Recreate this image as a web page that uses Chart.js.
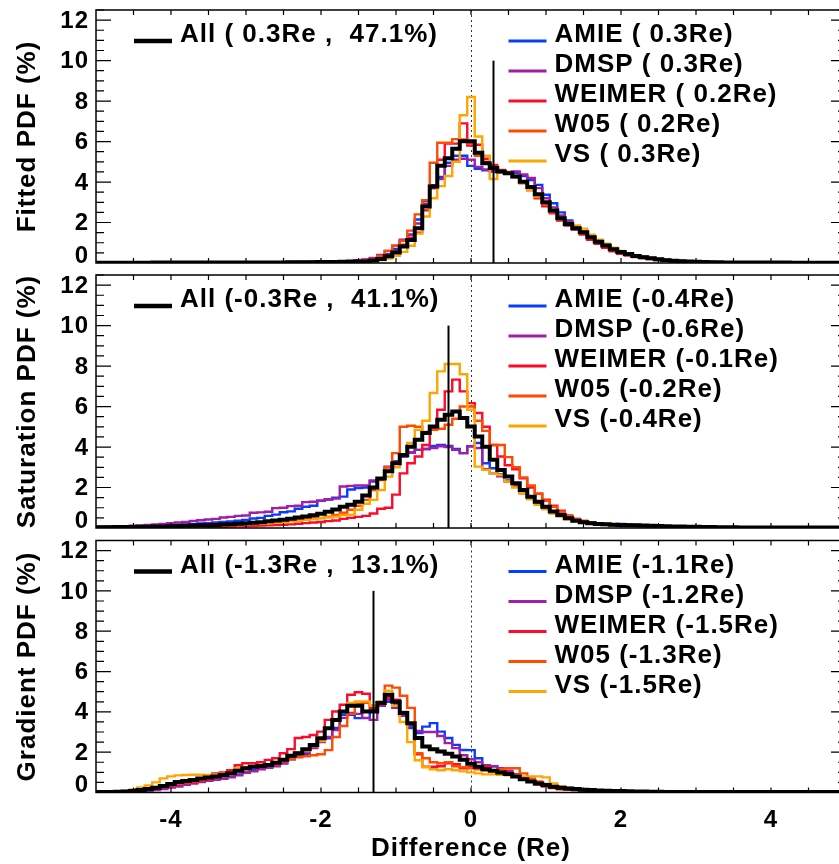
<!DOCTYPE html>
<html><head><meta charset="utf-8">
<script src="https://cdn.jsdelivr.net/npm/chart.js@4.4.1/dist/chart.umd.min.js"></script>
<style>
html,body{margin:0;padding:0;background:#fff;overflow:hidden;width:839px;height:864px;}
#wrap{position:relative;width:839px;height:864px;overflow:hidden;background:#fff;}
canvas{position:absolute;left:0;}
</style></head><body>
<div id="wrap">
<canvas id="c1" width="870" height="270" style="top:0px"></canvas>
<canvas id="c2" width="870" height="270" style="top:265px"></canvas>
<canvas id="c3" width="870" height="334" style="top:530px"></canvas>
</div>
<script>
// ---------- categories (bin centres, Re) ----------
const binCenters = [
-5.0,-4.9,-4.8,-4.7,-4.6,-4.5,-4.4,-4.3,-4.2,-4.1,
-4.0,-3.9,-3.8,-3.7,-3.6,-3.5,-3.4,-3.3,-3.2,-3.1,
-3.0,-2.9,-2.8,-2.7,-2.6,-2.5,-2.4,-2.3,-2.2,-2.1,
-2.0,-1.9,-1.8,-1.7,-1.6,-1.5,-1.4,-1.3,-1.2,-1.1,
-1.0,-0.9,-0.8,-0.7,-0.6,-0.5,-0.4,-0.3,-0.2,-0.1,
0.0,0.1,0.2,0.3,0.4,0.5,0.6,0.7,0.8,0.9,
1.0,1.1,1.2,1.3,1.4,1.5,1.6,1.7,1.8,1.9,
2.0,2.1,2.2,2.3,2.4,2.5,2.6,2.7,2.8,2.9,
3.0,3.1,3.2,3.3,3.4,3.5,3.6,3.7,3.8,3.9,
4.0,4.1,4.2,4.3,4.4,4.5,4.6,4.7,4.8,4.9,
5.0];

// ---------- Panel 1 : Fitted PDF (%) ----------
const fitAll = [
0.01,0.01,0.01,0.01,0.01,0.01,0.01,0.01,0.02,0.02,
0.02,0.02,0.02,0.02,0.02,0.02,0.02,0.02,0.02,0.02,
0.02,0.03,0.03,0.03,0.03,0.03,0.04,0.04,0.04,0.04,
0.05,0.05,0.05,0.06,0.06,0.07,0.08,0.12,0.20,0.33,
0.52,0.81,1.14,1.72,2.79,3.78,4.80,5.18,5.65,6.02,
6.02,5.45,4.93,4.69,4.52,4.44,4.27,4.02,3.75,3.40,
3.00,2.60,2.21,1.93,1.72,1.52,1.27,1.05,0.86,0.68,
0.54,0.45,0.35,0.28,0.23,0.18,0.14,0.11,0.09,0.07,
0.06,0.05,0.04,0.04,0.03,0.03,0.03,0.02,0.02,0.02,
0.02,0.02,0.02,0.01,0.01,0.01,0.01,0.01,0.01,0.01,
0.01];
const fitAMIE = [
0.01,0.01,0.01,0.01,0.01,0.01,0.01,0.01,0.02,0.02,
0.02,0.02,0.02,0.02,0.02,0.02,0.02,0.02,0.02,0.02,
0.03,0.03,0.03,0.03,0.04,0.04,0.04,0.05,0.05,0.05,
0.06,0.06,0.07,0.08,0.09,0.12,0.15,0.20,0.30,0.45,
0.70,1.10,1.40,2.15,3.05,3.85,4.25,4.95,5.30,5.30,
4.80,4.65,4.58,4.52,4.48,4.45,4.45,4.30,4.10,3.86,
3.37,2.95,2.50,2.10,1.80,1.55,1.30,1.08,0.90,0.72,
0.58,0.47,0.37,0.30,0.24,0.19,0.15,0.12,0.10,0.08,
0.06,0.05,0.05,0.04,0.04,0.03,0.03,0.03,0.02,0.02,
0.02,0.02,0.02,0.02,0.02,0.02,0.02,0.02,0.02,0.02,
0.02];
const fitDMSP = [
0.01,0.01,0.01,0.01,0.01,0.01,0.01,0.01,0.02,0.02,
0.02,0.02,0.02,0.02,0.02,0.02,0.02,0.02,0.02,0.02,
0.03,0.03,0.03,0.04,0.04,0.04,0.05,0.05,0.05,0.06,
0.06,0.07,0.08,0.09,0.11,0.14,0.17,0.25,0.40,0.60,
0.85,1.15,1.40,1.95,2.90,3.70,4.15,4.80,5.10,5.15,
5.10,4.75,4.62,4.55,4.50,4.50,4.52,4.37,4.20,3.70,
3.20,2.75,2.35,2.05,1.80,1.50,1.28,1.10,0.90,0.72,
0.58,0.48,0.38,0.31,0.25,0.20,0.16,0.13,0.10,0.08,
0.07,0.06,0.05,0.04,0.04,0.03,0.03,0.03,0.02,0.02,
0.02,0.02,0.02,0.02,0.02,0.02,0.02,0.02,0.02,0.02,
0.02];
const fitWEIMER = [
0.01,0.01,0.01,0.01,0.01,0.01,0.01,0.01,0.01,0.01,
0.01,0.01,0.01,0.01,0.01,0.02,0.02,0.02,0.02,0.02,
0.02,0.02,0.02,0.03,0.03,0.03,0.03,0.04,0.04,0.04,
0.05,0.05,0.05,0.06,0.07,0.08,0.10,0.14,0.25,0.40,
0.60,0.90,1.25,1.50,2.60,3.70,5.10,5.90,5.90,6.90,
5.80,5.84,5.15,4.85,4.60,4.45,4.25,3.95,3.60,3.20,
2.80,2.45,2.10,1.85,1.65,1.40,1.15,0.95,0.75,0.58,
0.45,0.37,0.30,0.24,0.19,0.15,0.12,0.10,0.08,0.06,
0.05,0.04,0.04,0.03,0.03,0.03,0.02,0.02,0.02,0.02,
0.01,0.01,0.01,0.01,0.01,0.01,0.01,0.01,0.01,0.01,
0.01];
const fitW05 = [
0.01,0.01,0.01,0.01,0.01,0.01,0.01,0.01,0.01,0.01,
0.01,0.01,0.01,0.01,0.01,0.02,0.02,0.02,0.02,0.02,
0.02,0.02,0.03,0.03,0.03,0.03,0.04,0.04,0.04,0.05,
0.05,0.06,0.06,0.07,0.08,0.10,0.13,0.20,0.35,0.60,
0.85,1.10,1.60,2.40,3.10,4.95,5.94,5.94,6.12,6.10,
5.90,5.30,5.00,4.75,4.55,4.45,4.25,3.95,3.60,3.25,
2.90,2.50,2.15,1.90,1.70,1.50,1.25,1.03,0.84,0.66,
0.52,0.42,0.33,0.26,0.21,0.17,0.13,0.10,0.08,0.07,
0.05,0.05,0.04,0.03,0.03,0.03,0.02,0.02,0.02,0.02,
0.01,0.01,0.01,0.01,0.01,0.01,0.01,0.01,0.01,0.01,
0.01];
const fitVS = [
0.01,0.01,0.01,0.01,0.01,0.01,0.01,0.01,0.01,0.01,
0.01,0.01,0.01,0.01,0.01,0.02,0.02,0.02,0.02,0.02,
0.02,0.02,0.02,0.03,0.03,0.03,0.03,0.04,0.04,0.04,
0.04,0.05,0.05,0.05,0.06,0.07,0.08,0.10,0.15,0.22,
0.35,0.55,0.85,1.45,2.30,3.20,3.80,4.30,5.00,7.30,
8.20,6.25,5.30,4.15,4.55,4.45,4.30,3.95,3.60,3.30,
3.00,2.60,2.20,1.95,1.85,1.70,1.40,1.15,0.95,0.75,
0.60,0.48,0.38,0.30,0.24,0.19,0.15,0.12,0.10,0.08,
0.06,0.05,0.05,0.04,0.04,0.03,0.03,0.03,0.02,0.02,
0.02,0.02,0.02,0.02,0.02,0.02,0.02,0.02,0.02,0.02,
0.02];

// ---------- Panel 2 : Saturation PDF (%) ----------
const satAll = [
0.04,0.04,0.04,0.05,0.05,0.05,0.06,0.06,0.07,0.08,
0.09,0.10,0.11,0.12,0.13,0.14,0.15,0.17,0.19,0.21,
0.23,0.26,0.29,0.33,0.37,0.41,0.46,0.52,0.57,0.63,
0.70,0.80,0.92,1.05,1.15,1.30,1.60,2.00,2.45,2.80,
3.20,3.61,4.02,4.36,4.69,5.02,5.35,5.59,5.76,5.43,
5.02,4.52,4.02,3.37,2.87,2.54,2.21,1.88,1.55,1.30,
1.05,0.81,0.64,0.48,0.36,0.28,0.23,0.20,0.18,0.16,
0.15,0.14,0.13,0.12,0.11,0.10,0.09,0.08,0.07,0.06,
0.06,0.05,0.05,0.04,0.04,0.04,0.03,0.03,0.03,0.03,
0.02,0.02,0.02,0.02,0.02,0.02,0.02,0.02,0.02,0.02,
0.02];
const satAMIE = [
0.05,0.05,0.06,0.06,0.07,0.08,0.09,0.10,0.11,0.12,
0.14,0.16,0.18,0.20,0.22,0.24,0.27,0.30,0.32,0.36,
0.40,0.47,0.50,0.60,0.66,0.78,0.82,0.95,1.05,1.10,
1.35,1.40,1.50,1.55,1.90,1.97,2.00,2.30,2.40,3.00,
3.28,3.53,3.73,3.86,3.90,4.05,4.10,4.05,3.90,3.70,
4.04,4.20,3.20,2.95,2.65,2.35,2.05,1.75,1.50,1.25,
1.00,0.82,0.66,0.52,0.42,0.34,0.28,0.24,0.20,0.19,
0.20,0.18,0.15,0.12,0.10,0.09,0.08,0.07,0.06,0.05,
0.05,0.04,0.04,0.04,0.03,0.03,0.03,0.03,0.02,0.02,
0.02,0.02,0.02,0.02,0.02,0.02,0.02,0.02,0.02,0.02,
0.02];
const satDMSP = [
0.05,0.06,0.07,0.08,0.09,0.11,0.13,0.15,0.18,0.20,
0.24,0.27,0.30,0.35,0.38,0.42,0.45,0.52,0.55,0.60,
0.62,0.75,0.77,0.80,0.98,1.00,1.08,1.10,1.28,1.30,
1.35,1.42,1.45,2.05,2.08,2.10,2.10,2.35,2.40,3.03,
3.30,3.53,3.73,3.86,3.90,3.95,4.04,4.00,3.86,3.70,
4.04,3.95,2.90,2.70,2.55,2.29,2.05,1.72,1.47,1.22,
0.97,0.80,0.64,0.52,0.42,0.34,0.27,0.22,0.19,0.17,
0.16,0.15,0.14,0.12,0.10,0.09,0.08,0.07,0.06,0.05,
0.05,0.04,0.04,0.04,0.03,0.03,0.03,0.03,0.02,0.02,
0.02,0.02,0.02,0.02,0.02,0.02,0.02,0.02,0.02,0.02,
0.02];
const satWEIMER = [
0.02,0.02,0.02,0.02,0.02,0.03,0.03,0.03,0.03,0.03,
0.04,0.04,0.04,0.05,0.05,0.05,0.06,0.06,0.07,0.08,
0.10,0.11,0.12,0.13,0.14,0.16,0.18,0.21,0.24,0.27,
0.30,0.34,0.37,0.45,0.50,0.55,0.60,0.72,0.95,1.00,
1.65,2.70,3.20,3.53,4.10,4.90,5.84,6.75,7.33,6.75,
6.17,5.68,5.00,4.10,3.53,3.10,2.90,2.45,2.00,1.70,
1.40,1.10,0.85,0.62,0.45,0.35,0.27,0.20,0.16,0.13,
0.11,0.10,0.09,0.08,0.07,0.06,0.05,0.05,0.04,0.04,
0.03,0.03,0.03,0.03,0.03,0.03,0.03,0.03,0.03,0.03,
0.02,0.02,0.02,0.02,0.02,0.02,0.02,0.02,0.02,0.02,
0.02];
const satW05 = [
0.02,0.03,0.03,0.03,0.04,0.04,0.05,0.05,0.06,0.07,
0.08,0.08,0.09,0.10,0.11,0.12,0.13,0.14,0.16,0.18,
0.20,0.22,0.24,0.27,0.30,0.33,0.36,0.40,0.44,0.48,
0.50,0.56,0.64,0.75,0.90,1.10,1.39,1.88,2.37,3.00,
3.70,5.00,5.05,5.00,4.75,4.85,4.90,5.10,5.40,6.00,
6.00,5.30,4.80,4.10,4.10,3.50,3.00,2.50,2.10,1.70,
1.35,1.05,0.80,0.60,0.45,0.35,0.27,0.21,0.17,0.14,
0.12,0.11,0.10,0.09,0.08,0.07,0.06,0.05,0.05,0.04,
0.04,0.03,0.03,0.03,0.03,0.03,0.03,0.03,0.03,0.03,
0.02,0.02,0.02,0.02,0.02,0.02,0.02,0.02,0.02,0.02,
0.02];
const satVS = [
0.03,0.03,0.04,0.04,0.04,0.05,0.05,0.06,0.06,0.07,
0.08,0.08,0.09,0.10,0.10,0.11,0.12,0.13,0.14,0.15,
0.17,0.19,0.21,0.23,0.26,0.30,0.33,0.36,0.40,0.44,
0.48,0.52,0.56,0.64,0.66,0.90,1.20,1.39,1.88,2.54,
3.00,3.60,4.20,4.85,5.30,6.67,7.74,8.10,8.10,7.60,
5.84,3.03,2.87,2.70,2.62,2.30,2.00,1.72,1.42,1.15,
0.92,0.72,0.56,0.43,0.33,0.26,0.21,0.17,0.14,0.12,
0.11,0.10,0.09,0.08,0.07,0.06,0.05,0.05,0.04,0.04,
0.03,0.03,0.03,0.03,0.03,0.03,0.03,0.03,0.03,0.03,
0.02,0.02,0.02,0.02,0.02,0.02,0.02,0.02,0.02,0.02,
0.02];

// ---------- Panel 3 : Gradient PDF (%) ----------
const gradAll = [
0.02,0.03,0.03,0.04,0.05,0.07,0.12,0.17,0.24,0.32,
0.42,0.52,0.57,0.62,0.69,0.74,0.79,0.87,0.95,1.08,
1.20,1.28,1.32,1.37,1.48,1.62,1.82,1.95,2.15,2.36,
2.69,3.19,3.60,4.02,4.30,4.30,4.02,4.02,4.44,4.85,
4.50,3.94,3.44,2.70,2.28,2.15,2.03,1.92,1.78,1.62,
1.42,1.28,1.15,1.08,0.99,0.92,0.79,0.66,0.54,0.45,
0.37,0.29,0.24,0.20,0.17,0.14,0.12,0.10,0.09,0.08,
0.07,0.06,0.05,0.05,0.04,0.04,0.03,0.03,0.03,0.03,
0.02,0.02,0.02,0.02,0.02,0.02,0.02,0.02,0.02,0.02,
0.02,0.02,0.02,0.02,0.02,0.02,0.02,0.02,0.02,0.02,
0.02];
const gradAMIE = [
0.01,0.02,0.02,0.03,0.04,0.05,0.07,0.10,0.15,0.20,
0.28,0.35,0.42,0.50,0.55,0.60,0.65,0.70,0.78,0.90,
1.00,1.10,1.20,1.25,1.32,1.45,1.65,1.80,1.90,2.30,
2.60,2.69,3.20,3.86,3.86,3.69,3.69,4.10,4.30,4.50,
4.40,3.90,3.20,2.95,3.27,3.44,3.02,2.70,2.36,2.11,
2.10,1.70,1.36,1.30,1.20,1.05,0.85,0.70,0.55,0.45,
0.37,0.30,0.25,0.20,0.17,0.14,0.12,0.10,0.09,0.08,
0.07,0.06,0.05,0.05,0.04,0.04,0.03,0.03,0.03,0.03,
0.02,0.02,0.02,0.02,0.02,0.02,0.02,0.02,0.02,0.02,
0.02,0.02,0.02,0.02,0.02,0.02,0.02,0.02,0.02,0.02,
0.02];
const gradDMSP = [
0.01,0.02,0.02,0.03,0.04,0.05,0.06,0.08,0.12,0.17,
0.24,0.30,0.38,0.45,0.52,0.58,0.63,0.68,0.75,0.85,
0.98,1.05,1.15,1.22,1.30,1.45,1.70,1.90,2.00,2.20,
2.50,2.75,3.10,3.70,3.95,3.90,3.70,3.60,4.30,4.60,
4.20,3.80,3.30,3.05,3.00,3.00,2.80,2.45,2.20,1.85,
1.65,1.50,1.35,1.30,1.20,1.08,0.90,0.72,0.58,0.46,
0.38,0.31,0.26,0.22,0.18,0.15,0.13,0.11,0.09,0.08,
0.07,0.06,0.05,0.05,0.04,0.04,0.03,0.03,0.03,0.03,
0.02,0.02,0.02,0.02,0.02,0.02,0.02,0.02,0.02,0.02,
0.02,0.02,0.02,0.02,0.02,0.02,0.02,0.02,0.02,0.02,
0.02];
const gradWEIMER = [
0.01,0.02,0.03,0.04,0.05,0.07,0.10,0.14,0.20,0.27,
0.35,0.42,0.47,0.52,0.58,0.65,0.95,1.00,1.10,1.35,
1.45,1.45,1.50,1.62,1.70,1.95,2.15,2.70,2.75,2.85,
3.02,3.60,4.02,4.35,4.85,4.97,4.90,4.20,4.45,4.70,
4.60,4.00,3.40,1.90,1.28,1.28,1.30,1.45,1.40,1.20,
1.25,1.20,1.28,1.10,1.05,0.99,0.90,0.70,0.54,0.40,
0.30,0.22,0.16,0.13,0.11,0.09,0.08,0.07,0.06,0.05,
0.05,0.04,0.04,0.03,0.03,0.03,0.03,0.02,0.02,0.02,
0.02,0.02,0.02,0.02,0.02,0.02,0.02,0.02,0.02,0.02,
0.01,0.01,0.01,0.01,0.01,0.01,0.01,0.01,0.01,0.01,
0.01];
const gradW05 = [
0.01,0.02,0.03,0.04,0.05,0.07,0.10,0.15,0.22,0.30,
0.38,0.45,0.50,0.55,0.62,0.70,0.75,0.82,0.90,1.05,
1.15,1.25,1.30,1.35,1.40,1.55,1.65,1.75,1.80,1.85,
1.90,2.10,2.75,3.30,3.90,4.40,4.45,4.30,4.50,5.30,
5.20,4.80,4.20,1.95,1.70,1.50,1.45,1.50,1.30,1.25,
1.20,1.15,1.10,1.10,1.15,1.20,1.20,0.95,0.70,0.55,
0.42,0.30,0.22,0.16,0.13,0.10,0.08,0.07,0.06,0.05,
0.05,0.04,0.04,0.03,0.03,0.03,0.02,0.02,0.02,0.02,
0.02,0.02,0.02,0.02,0.02,0.02,0.02,0.02,0.02,0.02,
0.01,0.01,0.01,0.01,0.01,0.01,0.01,0.01,0.01,0.01,
0.01];
const gradVS = [
0.01,0.02,0.03,0.05,0.08,0.15,0.25,0.35,0.50,0.70,
0.80,0.85,0.87,0.88,0.88,0.87,0.90,0.93,1.00,1.20,
1.25,1.30,1.35,1.40,1.50,1.65,1.85,2.00,2.05,2.30,
2.55,3.20,3.56,4.00,4.44,4.52,4.52,4.30,4.45,5.05,
4.30,3.50,2.50,1.60,1.25,1.15,1.10,1.15,1.10,1.05,
1.00,0.95,0.90,0.90,0.88,0.85,0.85,0.80,0.80,0.80,
0.75,0.45,0.30,0.20,0.15,0.12,0.10,0.08,0.07,0.06,
0.05,0.05,0.04,0.04,0.03,0.03,0.03,0.02,0.02,0.02,
0.02,0.02,0.02,0.02,0.02,0.02,0.02,0.02,0.02,0.02,
0.01,0.01,0.01,0.01,0.01,0.01,0.01,0.01,0.01,0.01,
0.01];

// ---------- labels ----------
const seriesNames = ["AMIE", "DMSP", "WEIMER", "W05", "VS"];
const panelTitles = ["Fitted PDF (%)", "Saturation PDF (%)", "Gradient PDF (%)"];
const allLegend = ["All ( 0.3Re ,  47.1%)", "All (-0.3Re ,  41.1%)", "All (-1.3Re ,  13.1%)"];
const modelLegend = [
  ["AMIE ( 0.3Re)", "DMSP ( 0.3Re)", "WEIMER ( 0.2Re)", "W05 ( 0.2Re)", "VS ( 0.3Re)"],
  ["AMIE (-0.4Re)", "DMSP (-0.6Re)", "WEIMER (-0.1Re)", "W05 (-0.2Re)", "VS (-0.4Re)"],
  ["AMIE (-1.1Re)", "DMSP (-1.2Re)", "WEIMER (-1.5Re)", "W05 (-1.3Re)", "VS (-1.5Re)"]
];
const allMedians = [0.3, -0.3, -1.3];
const markerTop = 10;
const xTickLabels = [-4, -2, 0, 2, 4];
const yTickLabels = [0, 2, 4, 6, 8, 10, 12];
const xMin = -5, xMax = 5, yMin = 0, yMax = 12.5;

const panelData = [
  [fitAMIE, fitDMSP, fitWEIMER, fitW05, fitVS, fitAll],
  [satAMIE, satDMSP, satWEIMER, satW05, satVS, satAll],
  [gradAMIE, gradDMSP, gradWEIMER, gradW05, gradVS, gradAll]
];

// ---------- styles ----------
const colors = ["#0a3cff", "#a01ea8", "#ff0a2a", "#ff4a00", "#ffa500"];
const FONT = "'Liberation Sans', Arial, Helvetica, sans-serif";

function pts(arr) { return arr.map((v, i) => ({ x: binCenters[i], y: v })); }

const framePlugin = {
  id: 'frame',
  beforeDraw(chart) { chart.ctx.letterSpacing = '1px'; },
  beforeDatasetsDraw(chart) {
    const { ctx, chartArea: a, scales: { x } } = chart;
    ctx.save();
    ctx.strokeStyle = '#333';
    ctx.lineWidth = 1;
    ctx.setLineDash([2, 3]);
    const px = Math.round(x.getPixelForValue(0)) + 0.5;
    ctx.beginPath(); ctx.moveTo(px, a.top); ctx.lineTo(px, a.bottom); ctx.stroke();
    ctx.restore();
  },
  afterDatasetsDraw(chart) {
    const p = chart.config.options.panelIndex;
    const { ctx, chartArea: a, scales: { x, y } } = chart;
    ctx.save();
    ctx.strokeStyle = '#000';
    ctx.lineWidth = 2;
    const mx = x.getPixelForValue(allMedians[p]);
    ctx.beginPath(); ctx.moveTo(mx, y.getPixelForValue(markerTop)); ctx.lineTo(mx, y.getPixelForValue(0)); ctx.stroke();
    ctx.lineWidth = 1.5;
    ctx.strokeRect(a.left, a.top, a.right - a.left, a.bottom - a.top);
    ctx.lineWidth = 1.2;
    ctx.beginPath();
    for (let k = 1; k < 20; k++) {
      const v = xMin + k * 0.5;
      const px = x.getPixelForValue(v);
      ctx.moveTo(px, a.bottom); ctx.lineTo(px, a.bottom - 5);
      ctx.moveTo(px, a.top); ctx.lineTo(px, a.top + 5);
    }
    for (let k = 1; k <= 25; k++) {
      const v = yMin + k * 0.5;
      const py = y.getPixelForValue(v);
      const len = (v % 2 === 0) ? 15 : 8;
      ctx.moveTo(a.left, py); ctx.lineTo(a.left + len, py);
      ctx.moveTo(a.right, py); ctx.lineTo(a.right - len, py);
    }
    ctx.stroke();
    ctx.letterSpacing = '1px';
    ctx.fillStyle = '#000';
    ctx.font = "bold 24px " + FONT;
    ctx.textAlign = 'right';
    ctx.textBaseline = 'middle';
    yTickLabels.forEach(v => {
      const py = y.getPixelForValue(v) + (v === yMin ? -7 : 1);
      ctx.fillText(String(v), a.left - 7, py);
    });
    if (p === 2) {
      ctx.textAlign = 'center';
      xTickLabels.forEach(v => {
        ctx.fillText(String(v), x.getPixelForValue(v), a.bottom + 28);
      });
    }
    ctx.font = "bold 26px " + FONT;
    ctx.textBaseline = 'alphabetic';
    ctx.textAlign = 'left';
    const rowY = (i) => a.top + 31 + 30 * i;
    ctx.lineWidth = 4.5;
    ctx.strokeStyle = '#000';
    ctx.beginPath(); ctx.moveTo(a.left + 38, rowY(0)); ctx.lineTo(a.left + 76, rowY(0)); ctx.stroke();
    ctx.fillText(allLegend[p], a.left + 84, rowY(0) + 1);
    const lx = x.getPixelForValue(0.5);
    for (let i = 0; i < 5; i++) {
      ctx.strokeStyle = colors[i];
      ctx.lineWidth = 3;
      ctx.beginPath(); ctx.moveTo(lx, rowY(i)); ctx.lineTo(lx + 38, rowY(i)); ctx.stroke();
      ctx.fillText(modelLegend[p][i], lx + 46, rowY(i) + 1);
    }
    ctx.restore();
  }
};

function makePanel(id, p) {
  const isBottom = (p === 2);
  const series = panelData[p];
  const datasets = [];
  datasets.push({ label: 'All', data: pts(series[5]), borderColor: '#000', borderWidth: 4, order: 0 });
  for (let i = 4; i >= 0; i--) {
    datasets.push({ label: seriesNames[i], data: pts(series[i]), borderColor: colors[i], borderWidth: 2.4, order: 5 - i });
  }
  datasets.forEach(d => { d.stepped = 'middle'; d.pointRadius = 0; d.fill = false; d.borderJoinStyle = 'miter'; d.borderCapStyle = 'butt'; });
  const xScale = {
    type: 'linear', min: xMin, max: xMax, display: isBottom,
    grid: { display: false }, border: { display: false },
    ticks: { display: false },
    title: { display: true, text: 'Difference (Re)', color: '#000', font: { family: FONT, size: 26, weight: 'bold' }, padding: { top: 0, bottom: 0 } }
  };
  if (isBottom) xScale.afterFit = s => { s.height = 71.5; };
  new Chart(document.getElementById(id), {
    type: 'line',
    data: { datasets },
    options: {
      panelIndex: p,
      responsive: false, animation: false, events: [],
      layout: { padding: { top: isBottom ? 10.5 : 10, right: 24, bottom: isBottom ? 0 : 7, left: 0 } },
      plugins: { legend: { display: false }, tooltip: { enabled: false } },
      scales: {
        x: xScale,
        y: {
          type: 'linear', min: yMin, max: yMax,
          grid: { display: false }, border: { display: false },
          ticks: { display: false },
          title: { display: true, text: panelTitles[p], color: '#000', font: { family: FONT, size: 26, weight: 'bold' }, padding: { top: 12, bottom: 0 } },
          afterFit: s => { s.width = 96; }
        }
      }
    },
    plugins: [framePlugin]
  });
}
makePanel('c1', 0);
makePanel('c2', 1);
makePanel('c3', 2);
</script>
</body></html>
